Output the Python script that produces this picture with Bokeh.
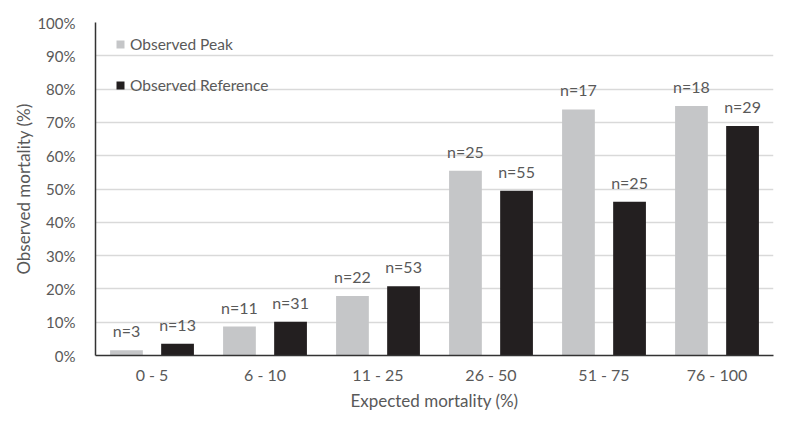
from bokeh.plotting import figure
from bokeh.models import (FactorRange, Range1d, ColumnDataSource, LabelSet, Legend, LegendItem,
                          FixedTicker, NumeralTickFormatter)
from bokeh.core.properties import value
from bokeh.transform import dodge
from bokeh.embed import file_html
from bokeh.resources import INLINE

categories = ["0 - 5", "6 - 10", "11 - 25", "26 - 50", "51 - 75", "76 - 100"]
peak = [0.016, 0.087, 0.179, 0.555, 0.739, 0.749]
reference = [0.035, 0.101, 0.208, 0.495, 0.462, 0.689]
peak_n = ["n=3", "n=11", "n=22", "n=25", "n=17", "n=18"]
ref_n = ["n=13", "n=31", "n=53", "n=55", "n=25", "n=29"]
y_ticks = [i / 10 for i in range(11)]

FONT = "Lato"
TXT = "#595959"
GRAY = "#c5c6c8"
BLACK = "#231f20"

src = ColumnDataSource(dict(cat=categories, peak=peak, ref=reference, pn=peak_n, rn=ref_n))

p = figure(width=800, height=432, x_range=FactorRange(*categories), y_range=Range1d(0, 1),
           output_backend="svg", toolbar_location=None,
           min_border_left=95, min_border_right=27, min_border_top=22, min_border_bottom=77)

off = 0.226
bw = 0.29
r1 = p.vbar(x=dodge("cat", -off, range=p.x_range), top="peak", width=bw, source=src,
            fill_color=GRAY, line_color=None)
r2 = p.vbar(x=dodge("cat", off, range=p.x_range), top="ref", width=bw, source=src,
            fill_color=BLACK, line_color=None)

for xcol, ycol, tcol in ((dodge("cat", -off, range=p.x_range), "peak", "pn"),
                         (dodge("cat", off, range=p.x_range), "ref", "rn")):
    p.add_layout(LabelSet(x=xcol, y=ycol, text=tcol, source=src, text_align="center",
                          text_baseline="bottom", y_offset=10, text_font=value(FONT),
                          text_font_size="16px", text_color=TXT))

p.outline_line_color = None
p.xgrid.grid_line_color = None
p.ygrid.grid_line_color = "#d9d9d9"
p.ygrid.grid_line_width = 1.5
p.ygrid.ticker = FixedTicker(ticks=y_ticks)

p.yaxis.ticker = FixedTicker(ticks=y_ticks)
p.yaxis.formatter = NumeralTickFormatter(format="0%")
p.yaxis.axis_label = "Observed mortality (%)"
p.xaxis.axis_label = "Expected mortality (%)"
for ax in (p.xaxis, p.yaxis):
    ax.axis_line_color = "#333333"
    ax.axis_line_width = 1.5
    ax.major_tick_line_color = None
    ax.minor_tick_line_color = None
    ax.major_label_text_font = FONT
    ax.major_label_text_font_size = "15px"
    ax.major_label_text_color = TXT
    ax.axis_label_text_font = FONT
    ax.axis_label_text_font_size = "17px"
    ax.axis_label_text_font_style = "normal"
    ax.axis_label_text_color = TXT
p.xaxis.major_label_text_font_size = "16px"
p.yaxis.major_label_standoff = 14
p.yaxis.axis_label_standoff = 0
p.xaxis.major_label_standoff = 3
p.xaxis.axis_label_standoff = 3

legend = Legend(items=[LegendItem(label="Observed Peak", renderers=[r1]),
                       LegendItem(label="Observed Reference", renderers=[r2])],
                location=(20, 261), padding=0, margin=0, spacing=23,
                glyph_width=10, glyph_height=10, label_standoff=5,
                label_text_font=FONT, label_text_font_size="15.5px", label_text_color=TXT,
                border_line_color=None, background_fill_alpha=0)
p.add_layout(legend)

open("out.html", "w").write(file_html(p, INLINE))
